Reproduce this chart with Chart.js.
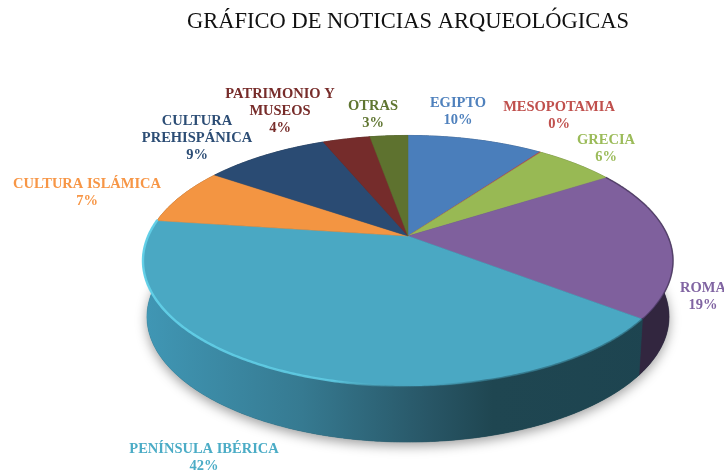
<!DOCTYPE html>
<html><head><meta charset="utf-8">
<style>html,body{margin:0;padding:0;background:#fff}canvas{display:block}</style>
<script src="https://cdn.jsdelivr.net/npm/chart.js@4"></script>
</head><body>
<canvas id="c" width="724" height="472"></canvas>
<script>
const categories = ["EGIPTO","MESOPOTAMIA","GRECIA","ROMA","PENÍNSULA IBÉRICA","CULTURA ISLÁMICA","CULTURA PREHISPÁNICA","PATRIMONIO Y MUSEOS","OTRAS"];
const percentages = [10.0,0.1,5.9,19.4,41.7,7.4,9.2,3.5,2.8];
const labelLines = [["EGIPTO"],["MESOPOTAMIA"],["GRECIA"],["ROMA"],["PENÍNSULA IBÉRICA"],["CULTURA ISLÁMICA"],["CULTURA","PREHISPÁNICA"],["PATRIMONIO Y","MUSEOS"],["OTRAS"]];
const faceColors = ["#4a7ebb","#be4b48","#98b954","#7f609d","#4aa8c3","#f39542","#2a4b73","#752c2b","#5e722f"];
const textColors = ["#4f81bd","#c0504d","#9bbb59","#8064a2","#4bacc6","#f79646","#2c4d75","#772c2a","#5f7530"];
const wallColors = ["#2c4a70","#71302e","#5c7032","#32263f",null,"#945a2a","#1a2e46","#471b1a","#38451c"];
const labelPlaces = [[458,112],[559,116],[606,149],[703,297],[204,458],[87,193],[197,138],[280,111],[373,115]];

const PERSP = 0.1976, SX = 1.3255, SY = 0.6143, DEPTH = 56, WALL_SHRINK = 0.985;

function rim(el, ang, wall){
  const c = Math.cos(ang), s = Math.sin(ang), w = 1 - PERSP * s, R = el.outerRadius;
  let X = SX * R * c / w, Y = SY * R * s / w;
  if (wall){ X *= WALL_SHRINK; Y += DEPTH; }
  return [el.x + X, el.y + Y];
}
function arcPts(el, from, to, wall){
  const pts = [], n = Math.max(2, Math.ceil((to - from) / 0.01));
  for (let i = 0; i <= n; i++) pts.push(rim(el, from + (to - from) * i / n, wall));
  return pts;
}
function trace(ctx, pts){ pts.forEach((p, i) => i ? ctx.lineTo(p[0], p[1]) : ctx.moveTo(p[0], p[1])); }

const pie3d = {
  id: 'pie3d',
  beforeDatasetDraw(chart, args){
    const ctx = chart.ctx, arcs = args.meta.data;
    const e0 = arcs[0], TAU = Math.PI * 2;
    const cx = e0.x, R = e0.outerRadius;

    // soft shadow beneath the disc
    ctx.save();
    ctx.beginPath();
    trace(ctx, arcPts(e0, 0, TAU, true));
    ctx.closePath();
    ctx.shadowColor = 'rgba(0,0,0,0.38)';
    ctx.shadowBlur = 12;
    ctx.shadowOffsetY = 4;
    ctx.fillStyle = '#1d4450';
    ctx.fill();
    ctx.restore();

    // side walls
    const W = SX * R * 1.02;
    const wallGrad = ctx.createLinearGradient(cx - W, 0, cx + W, 0);
    wallGrad.addColorStop(0, '#4097b5');
    wallGrad.addColorStop(0.30, '#367a91');
    wallGrad.addColorStop(0.54, '#285666');
    wallGrad.addColorStop(0.66, '#1f4651');
    wallGrad.addColorStop(1, '#1d4450');
    arcs.forEach((el, i) => {
      const top = arcPts(el, el.startAngle, el.endAngle, false);
      const bot = arcPts(el, el.startAngle, el.endAngle, true).reverse();
      ctx.beginPath();
      trace(ctx, top.concat(bot));
      ctx.closePath();
      const col = wallColors[i] || wallGrad;
      ctx.fillStyle = col; ctx.strokeStyle = col; ctx.lineWidth = 0.6;
      ctx.fill(); ctx.stroke();
    });

    // top faces
    arcs.forEach((el, i) => {
      ctx.beginPath();
      trace(ctx, [[el.x, el.y]].concat(arcPts(el, el.startAngle, el.endAngle, false)));
      ctx.closePath();
      ctx.fillStyle = faceColors[i]; ctx.strokeStyle = faceColors[i]; ctx.lineWidth = 0.5;
      ctx.fill(); ctx.stroke();
    });

    // rim bevel: light on the left of the large slice, fading into a dark edge on the right
    const pen = arcs[4], roma = arcs[3];
    const hi = ctx.createLinearGradient(cx - W, 0, cx + W, 0);
    hi.addColorStop(0, 'rgba(98,208,232,0.95)');
    hi.addColorStop(0.36, 'rgba(98,208,232,0.8)');
    hi.addColorStop(0.52, 'rgba(60,130,150,0)');
    hi.addColorStop(0.64, 'rgba(29,68,80,0.45)');
    hi.addColorStop(1, 'rgba(29,68,80,0.45)');
    ctx.save();
    ctx.lineCap = 'round';
    ctx.beginPath();
    trace(ctx, arcPts(pen, pen.startAngle, pen.endAngle, false));
    ctx.strokeStyle = hi; ctx.lineWidth = 2.4;
    ctx.stroke();
    ctx.beginPath();
    trace(ctx, arcPts(roma, roma.startAngle, roma.endAngle, false));
    ctx.strokeStyle = 'rgba(50,36,70,0.5)'; ctx.lineWidth = 1.6;
    ctx.stroke();
    ctx.restore();
    return false;
  },
  afterDatasetsDraw(chart){
    const ctx = chart.ctx;
    ctx.save();
    ctx.font = 'bold 14.5px "Liberation Serif"';
    ctx.textAlign = 'center';
    ctx.textBaseline = 'middle';
    ctx.filter = 'blur(0.35px)';
    categories.forEach((_, i) => {
      const lines = labelLines[i].concat([Math.round(percentages[i]) + '%']);
      const lh = 17.2, [x, y] = labelPlaces[i];
      ctx.fillStyle = textColors[i];
      lines.forEach((t, k) => ctx.fillText(t, x, y + (k - (lines.length - 1) / 2) * lh));
    });
    ctx.restore();
  }
};

new Chart(document.getElementById('c'), {
  type: 'pie',
  data: { labels: categories, datasets: [{ data: percentages, backgroundColor: faceColors, borderWidth: 0 }] },
  options: {
    responsive: false,
    animation: false,
    layout: { padding: { left: 92, right: 0, top: 9, bottom: 40 } },
    plugins: {
      legend: { display: false },
      tooltip: { enabled: false },
      title: { display: true, text: 'GRÁFICO DE NOTICIAS ARQUEOLÓGICAS', color: '#111',
        font: { family: '"Liberation Serif"', size: 22.5, weight: 'normal' }, padding: { top: 0, bottom: 4 } }
    }
  },
  plugins: [pie3d]
});
</script>
</body></html>
